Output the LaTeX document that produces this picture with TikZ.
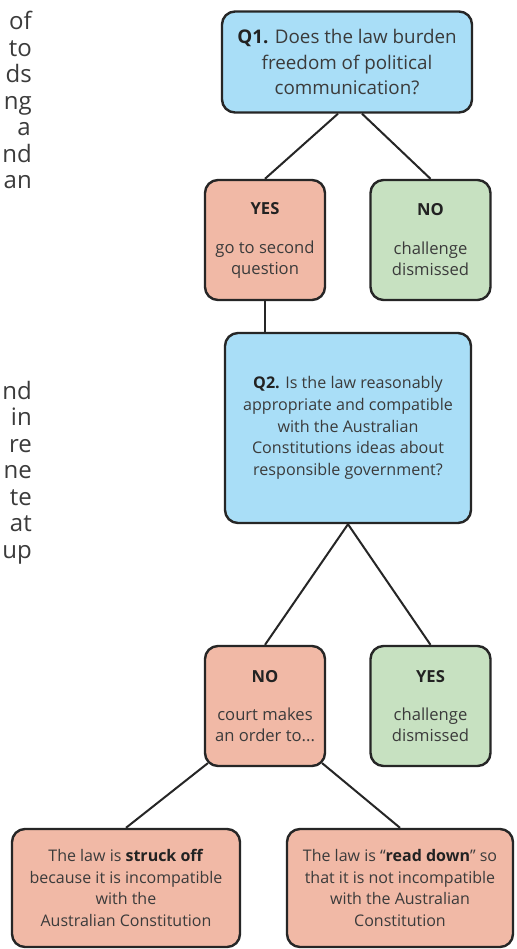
\documentclass[tikz,border=0pt]{standalone}
\usepackage{fontspec}
\setmainfont{Open Sans}
\usetikzlibrary{calc,backgrounds}
\definecolor{qblue}{HTML}{A9DEF7}
\definecolor{salmon}{HTML}{F1B9A6}
\definecolor{mint}{HTML}{C7E1C1}
\definecolor{edge}{HTML}{262626}
\definecolor{ink}{HTML}{3B3B3B}
\definecolor{headink}{HTML}{222222}
\begin{document}
\begin{tikzpicture}[x=1pt,y=-1pt,
  box/.style={draw=edge,line width=2.4pt,rounded corners=13pt,inner sep=0pt,align=center,text=ink},
  smallbox/.style={box,minimum width=120pt,minimum height=120pt,font=\fontsize{16.6}{21}\selectfont},
  bottombox/.style={box,fill=salmon,minimum height=118pt,font=\fontsize{16}{21.7}\selectfont},
  link/.style={draw=edge,line width=2pt},
  side/.style={anchor=base east,font=\fontsize{24}{25}\selectfont,text=ink,inner sep=0pt}]
\useasboundingbox (0,0) rectangle (516,949);

% left cut-off text fragments
\node[side] (s1) at (32,30) {of};
\node[side] (s2) at (32,56.5) {to};
\node[side] (s3) at (32,83) {ds};
\node[side] (s4) at (32,109.5) {ng};
\node[side] (s5) at (31,136) {a};
\node[side] (s6) at (32,162.5) {nd};
\node[side] (s7) at (32,189) {an};
\node[side] (s8) at (32,399) {nd};
\node[side] (s9) at (32,425.5) {in};
\node[side] (s10) at (32,452) {re};
\node[side] (s11) at (32,478.5) {ne};
\node[side] (s12) at (32,505) {te};
\node[side] (s13) at (32,531.5) {at};
\node[side] (s14) at (32,558) {up};

% boxes
\node[box,fill=qblue,minimum width=250pt,minimum height=101pt,font=\fontsize{18.8}{25.5}\selectfont] (q1) at (347,62)
  {{\color{headink}\textbf{Q1.}} Does the law burden\\freedom of political\\communication?};
\node[smallbox,fill=salmon] (yes1) at (265,240)
  {{\color{headink}\textbf{YES}}\\[18pt]go to second\\question};
\node[smallbox,fill=mint] (no1) at (430.5,240)
  {{\color{headink}\textbf{NO}}\\[18pt]challenge\\dismissed};
\node[box,fill=qblue,minimum width=246pt,minimum height=190pt,font=\fontsize{16.1}{21.8}\selectfont] (q2) at (348,428)
  {{\color{headink}\textbf{Q2.}} Is the law reasonably\\appropriate and compatible\\with the Australian\\Constitutions ideas about\\responsible government?};
\node[smallbox,fill=salmon] (no2) at (265,706)
  {{\color{headink}\textbf{NO}}\\[17pt]court makes\\an order to...};
\node[smallbox,fill=mint] (yes2) at (430.5,706)
  {{\color{headink}\textbf{YES}}\\[17pt]challenge\\dismissed};
\node[bottombox,minimum width=228pt] (b1) at (126,888)
  {The law is {\color{headink}\textbf{struck off}}\\because it is incompatible\\with the\\Australian Constitution};
\node[bottombox,minimum width=226pt] (b2) at (400,888)
  {The law is ``{\color{headink}\textbf{read down}}'' so\\that it is not incompatible\\with the Australian\\Constitution};

% connectors (behind the boxes)
\begin{scope}[on background layer]
  \fill[white] (0,0) rectangle (516,949);
  \coordinate (q1l) at ($(q1.south)+(-9,0)$);
  \coordinate (q1r) at ($(q1.south)+(15,0)$);
  \coordinate (no2l) at ($(no2.south west)+(4,-4)$);
  \coordinate (no2r) at ($(no2.south east)+(-4,-4)$);
  \draw[link] (q1l) -- (yes1.north);
  \draw[link] (q1r) -- (no1.north);
  \draw[link] (yes1.south) -- (yes1.south |- q2.north);
  \draw[link] (q2.south) -- (no2.north);
  \draw[link] (q2.south) -- (yes2.north);
  \draw[link] (no2l) -- (b1.north);
  \draw[link] (no2r) -- (b2.north);
\end{scope}
\end{tikzpicture}
\end{document}
